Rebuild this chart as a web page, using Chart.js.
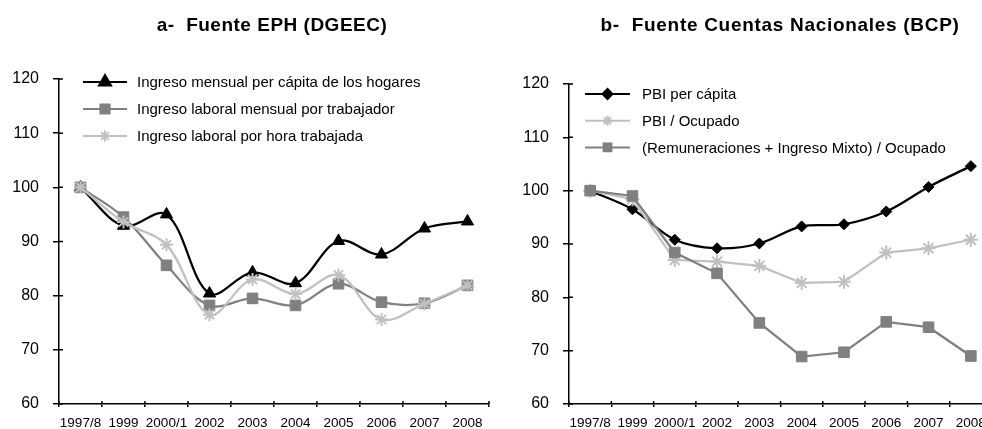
<!DOCTYPE html>
<html lang="es">
<head>
<meta charset="utf-8">
<title>Ingreso EPH vs Cuentas Nacionales</title>
<script src="https://cdn.jsdelivr.net/npm/chart.js@4.4.1/dist/chart.umd.min.js"></script>
<style>
  html, body { margin: 0; padding: 0; background: #fff; overflow: hidden; }
  body { width: 982px; height: 429px; position: relative; font-family: "Liberation Sans", Arial, sans-serif; }
  .panel { position: absolute; top: 0; height: 429px; overflow: hidden; }
  #panelA { left: 0; width: 495px; }
  #panelB { left: 500px; width: 482px; }
  canvas { display: block; }
  .ttl { position: absolute; top: 15px; font-weight: bold; font-size: 19px; line-height: 19px; letter-spacing: 0.5px; color: #000; white-space: pre; text-align: center; width: 420px; }
  #ttlA { left: 62px; }
  #ttlB { left: 570px; letter-spacing: 0.7px; }
</style>
</head>
<body>
<div class="panel" id="panelA"><canvas id="chartA" width="495" height="429" style="width:495px;height:429px"></canvas></div>
<div class="panel" id="panelB"><canvas id="chartB" width="492" height="429" style="width:492px;height:429px"></canvas></div>
<div class="ttl" id="ttlA">a-  Fuente EPH (DGEEC)</div>
<div class="ttl" id="ttlB">b-  Fuente Cuentas Nacionales (BCP)</div>
<script>
/* ---------- datos (índice 1997/8 = 100) ---------- */
const categories = ["1997/8", "1999", "2000/1", "2002", "2003", "2004", "2005", "2006", "2007", "2008"];
const yTicks = [60, 70, 80, 90, 100, 110, 120];

// a- EPH (DGEEC)
const ephHogares     = [100, 92.9, 95.0, 80.4, 84.3, 82.3, 90.1, 87.6, 92.4, 93.7];
const ephTrabajador  = [100, 94.5, 85.6, 78.2, 79.5, 78.2, 82.2, 78.8, 78.6, 81.9];
const ephHora        = [100, 93.6, 89.4, 76.5, 83.0, 80.3, 83.8, 75.6, 78.5, 81.9];

// b- Cuentas Nacionales (BCP)
const bcpPbiCapita   = [100, 96.5, 90.8, 89.2, 90.1, 93.3, 93.7, 96.1, 100.7, 104.6];
const bcpPbiOcupado  = [100, 98.4, 87.0, 86.7, 85.9, 82.7, 82.9, 88.4, 89.2, 90.8];
const bcpRemOcupado  = [100, 99.0, 88.4, 84.5, 75.2, 68.9, 69.7, 75.4, 74.4, 69.0];

const FONT = "'Liberation Sans', Arial, sans-serif";
const BLACK = "#000000", DARK = "#808080", LIGHT = "#c0c0c0";

/* ticks que cruzan el eje (parte interior) */
const innerTicks = {
  id: "innerTicks",
  afterDraw(chart) {
    const { ctx, chartArea: a, scales: { x, y } } = chart;
    ctx.save();
    ctx.strokeStyle = "#000"; ctx.lineWidth = 1.5;
    ctx.beginPath();
    yTicks.forEach(v => { const py = y.getPixelForValue(v); ctx.moveTo(a.left, py); ctx.lineTo(a.left + 4, py); });
    const w = x.getPixelForTick(1) - x.getPixelForTick(0);
    for (let i = 0; i <= categories.length; i++) {
      const px = x.getPixelForTick(0) - w / 2 + i * w;
      ctx.moveTo(px, a.bottom); ctx.lineTo(px, a.bottom - 3);
    }
    ctx.stroke();
    ctx.restore();
  }
};

/* leyenda dentro del área del gráfico */
const inLegend = {
  id: "inLegend",
  afterDraw(chart, args, o) {
    const { ctx, chartArea: a } = chart;
    ctx.save();
    ctx.font = "15px " + FONT;
    ctx.textBaseline = "middle";
    o.items.forEach((it, i) => {
      const ds = chart.data.datasets[it.index];
      const x0 = a.left + o.dx, y0 = a.top + o.dy + i * o.gap;
      ctx.strokeStyle = ds.borderColor; ctx.lineWidth = 2;
      ctx.beginPath(); ctx.moveTo(x0, y0); ctx.lineTo(x0 + o.len, y0); ctx.stroke();
      ctx.fillStyle = ds.pointBackgroundColor; ctx.strokeStyle = ds.pointBorderColor;
      Chart.helpers.drawPoint(ctx, { pointStyle: ds.pointStyle, radius: it.radius, rotation: 0, borderWidth: ds.pointBorderWidth }, x0 + o.len / 2, y0);
      ctx.fillStyle = "#000";
      ctx.fillText(ds.label, x0 + o.len + o.textGap, y0 + 1);
    });
    ctx.restore();
  }
};

function series(label, data, color, style, radius, bw, tension, order) {
  return {
    label, data, order, tension,
    borderColor: color, borderWidth: 2.25,
    pointStyle: style, pointRadius: radius, pointHoverRadius: radius,
    pointBackgroundColor: color, pointBorderColor: color, pointBorderWidth: bw,
  };
}

function makeChart(id, datasets, axisWidth, padTop, padRight, legend) {
  return new Chart(document.getElementById(id), {
    type: "line",
    data: { labels: categories, datasets },
    plugins: [innerTicks, inLegend],
    options: {
      responsive: false, animation: false, devicePixelRatio: 1,
      layout: { autoPadding: false, padding: { top: padTop, right: padRight, left: 0, bottom: 0 } },
      plugins: { legend: { display: false }, tooltip: { enabled: false }, inLegend: legend },
      scales: {
        x: {
          type: "category", offset: true,
          grid: { offset: true, drawOnChartArea: false, color: "#000", lineWidth: 1.5, tickLength: 3 },
          border: { color: "#000", width: 1.5 },
          ticks: { color: "#000", font: { family: FONT, size: 13.5 }, padding: 8, maxRotation: 0, autoSkip: false },
          afterFit: (s) => { s.height = 25; s.paddingLeft = 0; s.paddingRight = 0; },
        },
        y: {
          min: 60, max: 120,
          afterBuildTicks: (s) => { s.ticks = yTicks.map(v => ({ value: v })); },
          grid: { drawOnChartArea: false, color: "#000", lineWidth: 1.5, tickLength: 6 },
          border: { color: "#000", width: 1.5 },
          ticks: { color: "#000", font: { family: FONT, size: 16 }, padding: 14 },
          afterFit: (s) => { s.width = axisWidth; },
        },
      },
    },
  });
}

makeChart("chartA", [
  series("Ingreso mensual per cápita de los hogares", ephHogares, BLACK, "triangle", 7, 1, 0.35, 2),
  series("Ingreso laboral mensual por trabajador", ephTrabajador, DARK, "rect", 7.5, 1, 0.35, 1),
  series("Ingreso laboral por hora trabajada", ephHora, LIGHT, "star", 6.5, 2, 0.35, 0),
], 59, 79, 6, { dx: 24, dy: 3, gap: 27, len: 44, textGap: 10, items: [{ index: 0, radius: 7 }, { index: 1, radius: 6.5 }, { index: 2, radius: 5.5 }] });

makeChart("chartB", [
  series("PBI per cápita", bcpPbiCapita, BLACK, "rectRot", 5.5, 1, 0.35, 2),
  series("PBI / Ocupado", bcpPbiOcupado, LIGHT, "star", 7, 2, 0, 1),
  series("(Remuneraciones + Ingreso Mixto) / Ocupado", bcpRemOcupado, DARK, "rect", 7.5, 1, 0, 0),
], 69, 84, 0, { dx: 16, dy: 10, gap: 26.7, len: 45, textGap: 12, items: [{ index: 0, radius: 5 }, { index: 1, radius: 5 }, { index: 2, radius: 5.5 }] });
</script>
</body>
</html>
